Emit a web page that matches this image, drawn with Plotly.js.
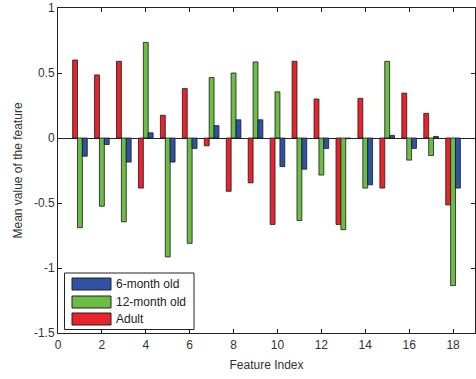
<!DOCTYPE html>
<html>
<head>
<meta charset="utf-8">
<script src="https://cdn.plot.ly/plotly-3.0.1.min.js"></script>
<style>
  html, body { margin: 0; padding: 0; background: #fff; }
  #chart { width: 476px; height: 379px; }
</style>
</head>
<body>
<div id="chart"></div>
<script>
// Feature indices 1..18
const featureIndex = [1, 2, 3, 4, 5, 6, 7, 8, 9, 10, 11, 12, 13, 14, 15, 16, 17, 18];

// Mean value of each feature per age group
const adult = [0.60, 0.485, 0.59, -0.385, 0.175, 0.38, -0.06, -0.41, -0.345, -0.665,
               0.59, 0.30, -0.665, 0.305, -0.385, 0.345, 0.19, -0.515];
const month12 = [-0.69, -0.525, -0.645, 0.735, -0.915, -0.81, 0.465, 0.50, 0.585, 0.355,
                 -0.635, -0.285, -0.705, -0.385, 0.59, -0.17, -0.135, -1.135];
const month6 = [-0.14, -0.05, -0.185, 0.04, -0.185, -0.08, 0.095, 0.14, 0.14, -0.22,
                -0.24, -0.08, -0.005, -0.36, 0.02, -0.08, 0.012, -0.385];

const seriesNames = ['6-month old', '12-month old', 'Adult'];
const xTicks = [0, 2, 4, 6, 8, 10, 12, 14, 16, 18];
const yTicks = [-1.5, -1, -0.5, 0, 0.5, 1];

const colors = { m6: '#2f52a3', m12: '#6cbd45', adult: '#e8232b' };
const edge = { color: '#1a1a1a', width: 0.8 };
const FONT = 'Liberation Sans, Arial, sans-serif';

const traces = [
  { type: 'bar', x: featureIndex, y: adult, name: seriesNames[2],
    marker: { color: colors.adult, line: edge } },
  { type: 'bar', x: featureIndex, y: month12, name: seriesNames[1],
    marker: { color: colors.m12, line: edge } },
  { type: 'bar', x: featureIndex, y: month6, name: seriesNames[0],
    marker: { color: colors.m6, line: edge } }
];

// Legend box drawn with paper-coordinate shapes (wide swatches)
const L = 58, W = 417, T = 8, H = 325;
const px = v => (v - L) / W;
const py = v => (T + H - v) / H;

const legendItems = [
  { label: seriesNames[0], color: colors.m6, cy: 284 },
  { label: seriesNames[1], color: colors.m12, cy: 302 },
  { label: seriesNames[2], color: colors.adult, cy: 319 }
];

const shapes = [
  { type: 'rect', xref: 'paper', yref: 'paper',
    x0: px(64.5), x1: px(194), y0: py(273), y1: py(329.5),
    line: { color: '#222', width: 1 }, fillcolor: '#fff', layer: 'above' }
];
const annotations = [];
legendItems.forEach(it => {
  shapes.push({ type: 'rect', xref: 'paper', yref: 'paper',
    x0: px(72), x1: px(111), y0: py(it.cy - 6), y1: py(it.cy + 6),
    line: { color: '#222', width: 1 }, fillcolor: it.color, layer: 'above' });
  annotations.push({ xref: 'paper', yref: 'paper', x: px(114), y: py(it.cy),
    xanchor: 'left', yanchor: 'middle', text: it.label, showarrow: false,
    font: { family: FONT, size: 12, color: '#222' } });
});

const axisCommon = {
  showline: true, linecolor: '#222', linewidth: 1, mirror: 'allticks',
  ticks: 'inside', ticklen: 4, tickcolor: '#222', showgrid: false,
  tickfont: { family: FONT, size: 12, color: '#333' }
};

const layout = {
  width: 476, height: 379,
  margin: { l: L, r: 476 - L - W, t: T, b: 379 - T - H },
  paper_bgcolor: '#fff', plot_bgcolor: '#fff',
  barmode: 'group', bargap: 0.333, bargroupgap: 0,
  showlegend: false,
  font: { family: FONT, size: 12, color: '#333' },
  xaxis: Object.assign({}, axisCommon, {
    range: [0, 19], tickvals: xTicks, zeroline: false, ticklabelstandoff: 1,
    title: { text: 'Feature Index', standoff: 9,
             font: { family: FONT, size: 12, color: '#333' } }
  }),
  yaxis: Object.assign({}, axisCommon, {
    range: [-1.5, 1], tickvals: yTicks, ticktext: yTicks.map(String),
    zeroline: true, zerolinecolor: '#222', zerolinewidth: 1,
    title: { text: 'Mean value of the feature', standoff: 8,
             font: { family: FONT, size: 12, color: '#333' } }
  }),
  shapes: shapes,
  annotations: annotations
};

Plotly.newPlot('chart', traces, layout, { displayModeBar: false, staticPlot: true });
</script>
</body>
</html>
